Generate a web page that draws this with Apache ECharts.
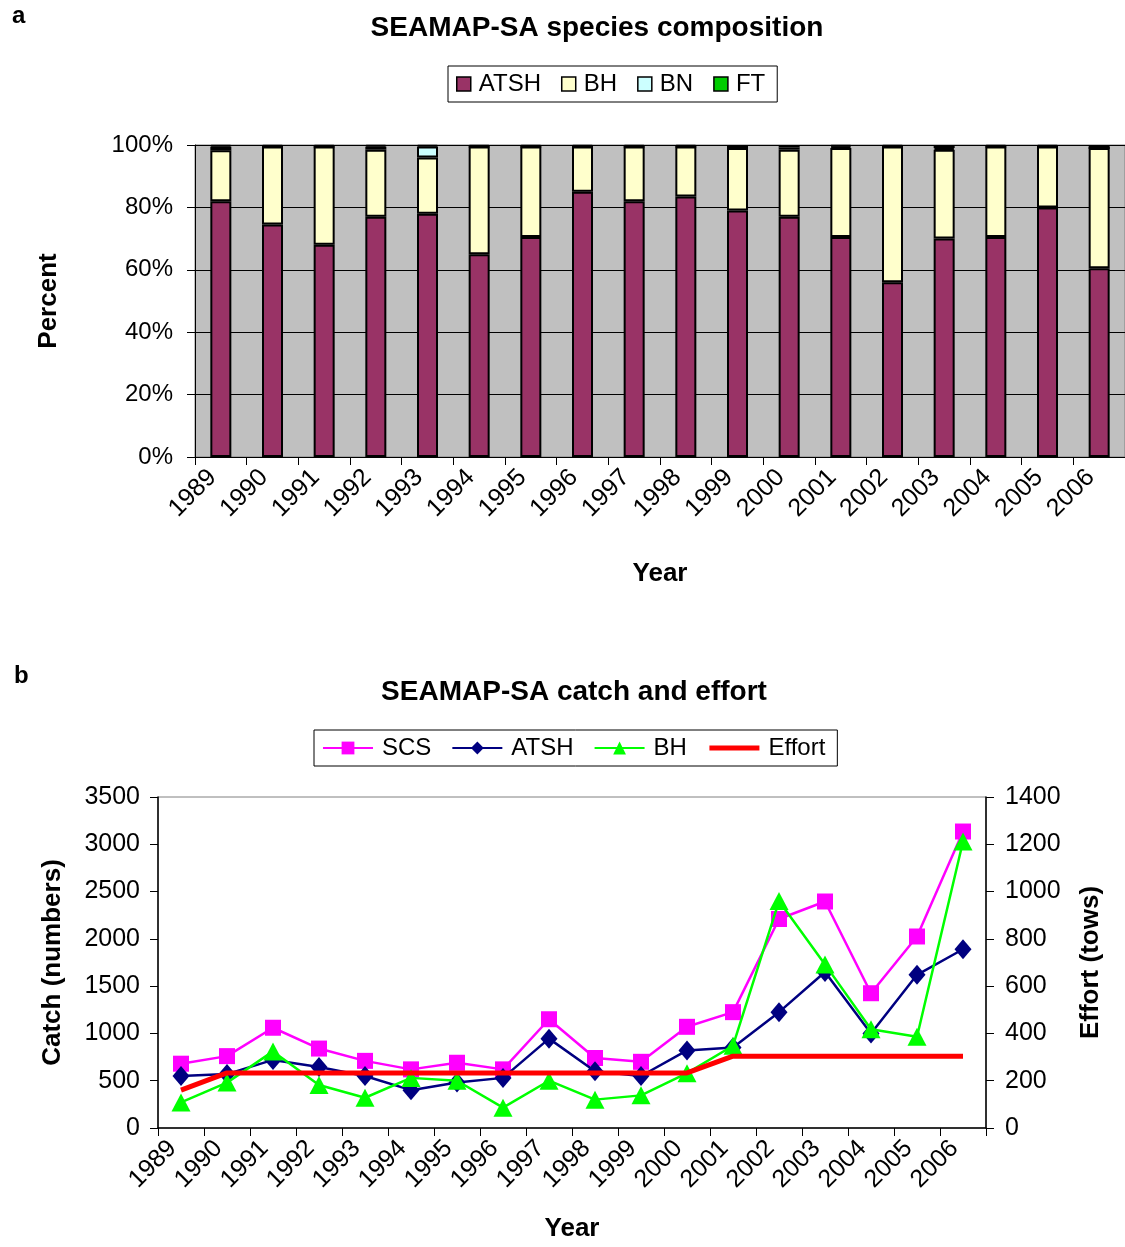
<!DOCTYPE html>
<html>
<head>
<meta charset="utf-8">
<script src="https://cdn.jsdelivr.net/npm/echarts@6/dist/echarts.min.js"></script>
<style>
html,body{margin:0;padding:0;background:#fff;}
#top{position:absolute;left:0;top:0;width:1125px;height:620px;}
#bot{position:absolute;left:0;top:620px;width:1125px;height:627px;}
</style>
</head>
<body>
<div id="top"></div>
<div id="bot"></div>
<script>
const years = ['1989','1990','1991','1992','1993','1994','1995','1996','1997','1998','1999','2000','2001','2002','2003','2004','2005','2006'];
// Panel a: species composition (percent)
const pctATSH = [82,74.5,68,77,78,65,70.5,85,82,83.5,79,77,70.5,56,70,70.5,80,60.5];
const pctBH   = [16.3,25,31.5,21.5,18,34.5,29,14.5,17.5,16,20,21.5,28.5,43.5,28.5,29,19.5,38.5];
const pctBN   = [1.2,0,0,1,3.5,0,0,0,0,0,0,0.7,0.5,0,0.5,0,0,0];
const pctFT   = [0.5,0.5,0.5,0.5,0.5,0.5,0.5,0.5,0.5,0.5,1,0.8,0.5,0.5,1,0.5,0.5,1];
// Panel b: catch and effort
const catchSCS  = [680,760,1060,840,710,620,690,620,1150,740,700,1070,1225,2210,2395,1425,2025,3135];
const catchATSH = [550,570,720,645,550,400,480,530,945,600,550,820,850,1225,1650,1000,1620,1890];
const catchBH   = [270,480,810,455,320,530,500,215,500,300,345,580,870,2400,1730,1045,965,3030];
const effortTows = [160,233,233,233,233,233,233,233,233,233,233,233,304,304,304,304,304,304];

const FONT = '"Liberation Sans", Arial, sans-serif';
const plain = v => String(v);

const topChart = echarts.init(document.getElementById('top'), null, {renderer:'canvas'});
const barStyle = (c) => ({color:c, borderColor:'#000', borderWidth:2});
topChart.setOption({
  animation:false,
  textStyle:{fontFamily:FONT, color:'#000'},
  graphic:[
    {type:'text', left:12, top:4, style:{text:'a', font:'bold 24px '+FONT, fill:'#000'}},
    {type:'text', x:597, y:28, style:{text:'SEAMAP-SA species composition', font:'bold 28px '+FONT, fill:'#000', textAlign:'center', textVerticalAlign:'middle'}}
  ],
  legend:{
    data:['ATSH','BH','BN','FT'],
    left:448, top:66,
    borderColor:'#000', borderWidth:1,
    padding:[6,12,6,8],
    icon:'rect', itemWidth:14, itemHeight:14, itemGap:20,
    itemStyle:{borderColor:'#000', borderWidth:1.5},
    textStyle:{fontSize:24, fontFamily:FONT, color:'#000', padding:[0,0,0,3]}
  },
  grid:{left:195, top:145, width:936, height:312, show:true, backgroundColor:'#c0c0c0', borderColor:'#808080', borderWidth:1},
  xAxis:{
    type:'category', data:years, boundaryGap:true,
    axisLine:{lineStyle:{color:'#000', width:1}},
    axisTick:{show:true, length:8, lineStyle:{color:'#000'}},
    axisLabel:{rotate:45, fontSize:25, fontFamily:FONT, color:'#000', margin:8, interval:0, padding:[0,12,0,0]},
    name:'Year', nameLocation:'middle', nameGap:104,
    nameTextStyle:{fontSize:26, fontWeight:'bold', fontFamily:FONT, color:'#000'}
  },
  yAxis:{
    type:'value', min:0, max:100, interval:20,
    axisLine:{show:true, lineStyle:{color:'#000', width:1}},
    axisTick:{show:true, length:8, lineStyle:{color:'#000'}},
    axisLabel:{formatter:'{value}%', fontSize:24, fontFamily:FONT, color:'#000', margin:22},
    splitLine:{show:true, lineStyle:{color:'#000', width:1}},
    name:'Percent', nameLocation:'middle', nameGap:133, nameRotate:90,
    nameTextStyle:{fontSize:26, fontWeight:'bold', fontFamily:FONT, color:'#000'}
  },
  series:[
    {name:'ATSH', type:'bar', stack:'s', data:pctATSH, barWidth:21, itemStyle:barStyle('#993366')},
    {name:'BH', type:'bar', stack:'s', data:pctBH, barWidth:21, itemStyle:barStyle('#FFFFCC')},
    {name:'BN', type:'bar', stack:'s', data:pctBN, barWidth:21, itemStyle:barStyle('#CCFFFF')},
    {name:'FT', type:'bar', stack:'s', data:pctFT, barWidth:21, itemStyle:barStyle('#00CC00')}
  ]
});

const botChart = echarts.init(document.getElementById('bot'), null, {renderer:'canvas'});
botChart.setOption({
  animation:false,
  textStyle:{fontFamily:FONT, color:'#000'},
  graphic:[
    {type:'text', left:14, top:44, style:{text:'b', font:'bold 24px '+FONT, fill:'#000'}},
    {type:'text', x:574, y:72, style:{text:'SEAMAP-SA catch and effort', font:'bold 28px '+FONT, fill:'#000', textAlign:'center', textVerticalAlign:'middle'}}
  ],
  legend:{
    data:['SCS','ATSH','BH',{name:'Effort', itemStyle:{opacity:0}, lineStyle:{width:5, color:'#FF0000'}}],
    left:314, top:110,
    borderColor:'#000', borderWidth:1,
    padding:[6,12,6,8],
    itemWidth:50, itemHeight:16, itemGap:20,
    textStyle:{fontSize:24, fontFamily:FONT, color:'#000', padding:[0,0,0,4]}
  },
  grid:{left:158, top:177, width:828, height:337, show:true, backgroundColor:'#fff', borderColor:'#808080', borderWidth:1},
  xAxis:{
    type:'category', data:years, boundaryGap:true,
    axisLine:{lineStyle:{color:'#000', width:1.5}},
    axisTick:{show:true, length:8, lineStyle:{color:'#000'}},
    axisLabel:{rotate:45, fontSize:25, fontFamily:FONT, color:'#000', margin:8, interval:0, padding:[0,12,0,0]},
    name:'Year', nameLocation:'middle', nameGap:88,
    nameTextStyle:{fontSize:26, fontWeight:'bold', fontFamily:FONT, color:'#000'}
  },
  yAxis:[
    {
      type:'value', min:0, max:3500, interval:500, position:'left',
      axisLine:{show:true, lineStyle:{color:'#000', width:1.5}},
      axisTick:{show:true, length:8, lineStyle:{color:'#000'}},
      axisLabel:{formatter:plain, fontSize:25, fontFamily:FONT, color:'#000', margin:18},
      splitLine:{show:false},
      name:'Catch (numbers)', nameLocation:'middle', nameGap:92, nameRotate:90,
      nameTextStyle:{fontSize:26, fontWeight:'bold', fontFamily:FONT, color:'#000'}
    },
    {
      type:'value', min:0, max:1400, interval:200, position:'right',
      axisLine:{show:true, lineStyle:{color:'#000', width:1.5}},
      axisTick:{show:true, length:8, lineStyle:{color:'#000'}},
      axisLabel:{formatter:plain, fontSize:25, fontFamily:FONT, color:'#000', margin:19},
      splitLine:{show:false},
      name:'Effort (tows)', nameLocation:'middle', nameGap:92, nameRotate:90,
      nameTextStyle:{fontSize:26, fontWeight:'bold', fontFamily:FONT, color:'#000'}
    }
  ],
  series:[
    {name:'SCS', type:'line', data:catchSCS, yAxisIndex:0, symbol:'rect', symbolSize:16,
      lineStyle:{color:'#FF00FF', width:2.5}, itemStyle:{color:'#FF00FF'}, z:3},
    {name:'ATSH', type:'line', data:catchATSH, yAxisIndex:0, symbol:'diamond', symbolSize:[17,20],
      lineStyle:{color:'#000080', width:2.5}, itemStyle:{color:'#000080'}, z:4},
    {name:'BH', type:'line', data:catchBH, yAxisIndex:0, symbol:'triangle', symbolSize:[19,18],
      lineStyle:{color:'#00FF00', width:2.5}, itemStyle:{color:'#00FF00'}, z:5},
    {name:'Effort', type:'line', data:effortTows, yAxisIndex:1, symbol:'none',
      lineStyle:{color:'#FF0000', width:5}, itemStyle:{color:'#FF0000'}, z:6}
  ]
});
</script>
</body>
</html>
